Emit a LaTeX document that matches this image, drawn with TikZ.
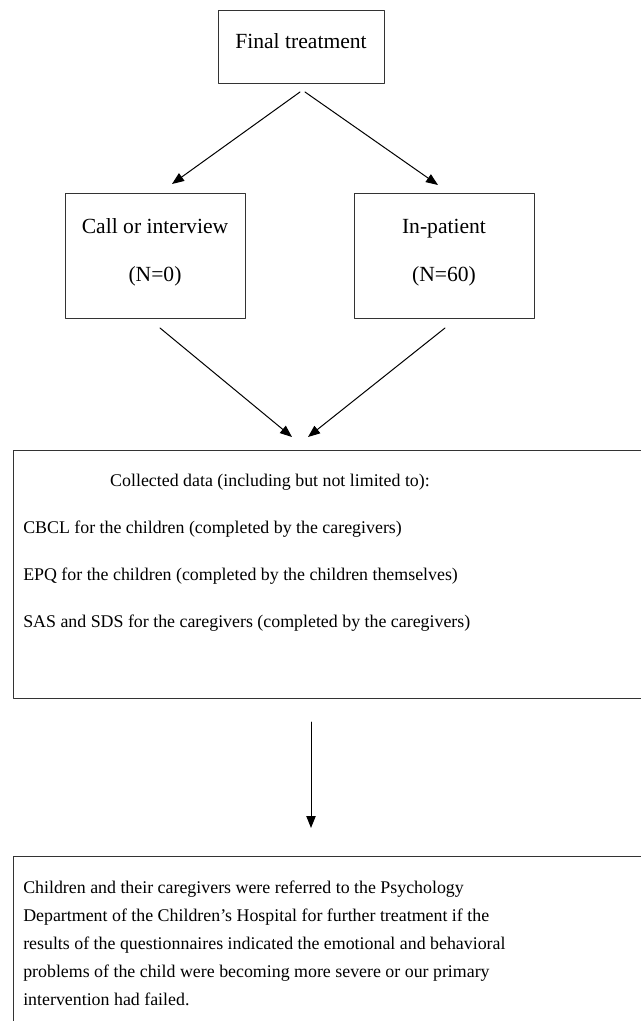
\documentclass[tikz,border=0pt]{standalone}
\usepackage{fontspec}
\setmainfont{Liberation Serif}
\usetikzlibrary{arrows.meta,positioning,calc}

\begin{document}
\begin{tikzpicture}[x=0.75pt,y=-0.75pt,line cap=round,line join=round,
    >={Triangle[length=9pt,width=7pt]},
    box/.style={draw=black!80,line width=0.9pt,inner sep=0pt,anchor=north west},
    txt/.style={font=\fontsize{16.2}{21}\selectfont,inner sep=0pt,anchor=base},
    body/.style={font=\fontsize{13.4}{21}\selectfont,inner sep=0pt,anchor=base west},
    conn/.style={->,line width=0.75pt}]

        \useasboundingbox (0,0) rectangle (641,1021);
        \clip (0,0) rectangle (641,1021);

        % --- Boxes ---
        \node[box,minimum width=166*0.75pt,minimum height=73*0.75pt] (finalbox) at (218,10) {};
        \node[box,minimum width=180*0.75pt,minimum height=125*0.75pt] (callbox) at (65,193) {};
        \node[box,minimum width=180*0.75pt,minimum height=125*0.75pt] (inpatbox) at (354,193) {};
        \node[box,minimum width=700*0.75pt,minimum height=248*0.75pt] (databox) at (13,450) {};
        \node[box,minimum width=700*0.75pt,minimum height=300*0.75pt] (referbox) at (13,856) {};

        % --- Texts ---
        \node[txt] (final) at (301,48) {Final treatment};
        \node[txt] (call) at (155,233) {Call or interview};
        \node[txt] (callN) at (155,281) {(N=0)};
        \node[txt] (inpat) at (444,233) {In-patient};
        \node[txt] (inpatN) at (444,281) {(N=60)};

        \node[body,anchor=base] (collected) at (270,486) {Collected data (including but not limited to):};
        \node[body] (cbcl) at (23,533) {CBCL for the children (completed by the caregivers)};
        \node[body] (epq) at (23,580) {EPQ for the children (completed by the children themselves)};
        \node[body] (sas) at (23,627) {SAS and SDS for the caregivers (completed by the caregivers)};

        % last line sits on the base anchor
        \node[body,align=left] (refer) at (23,1005) {Children and their caregivers were referred to the Psychology\\
            Department of the Children’s Hospital for further treatment if the\\
            results of the questionnaires indicated the emotional and behavioral\\
            problems of the child were becoming more severe or our primary\\
            intervention had failed.};

        % --- Arrow ends ---
        \coordinate (finalL) at (300,92);
        \coordinate (finalR) at (305,92);
        \coordinate (callT) at (172,184);
        \coordinate (inpatT) at (438,185);
        \coordinate (callB) at (160,328);
        \coordinate (inpatB) at (445,328);
        \coordinate (dataL) at (292,437);
        \coordinate (dataR) at (308,437);
        \coordinate (dataB) at (311,722);
        \coordinate (referT) at (311,828);

        % Split into the two groups
        \draw[conn] (finalL) -- (callT);
        \draw[conn] (finalR) -- (inpatT);

        % Both groups give the data
        \draw[conn] (callB) -- (dataL);
        \draw[conn] (inpatB) -- (dataR);

        % Referral
        \draw[conn] (dataB) -- (referT);

    \end{tikzpicture}
\end{document}
